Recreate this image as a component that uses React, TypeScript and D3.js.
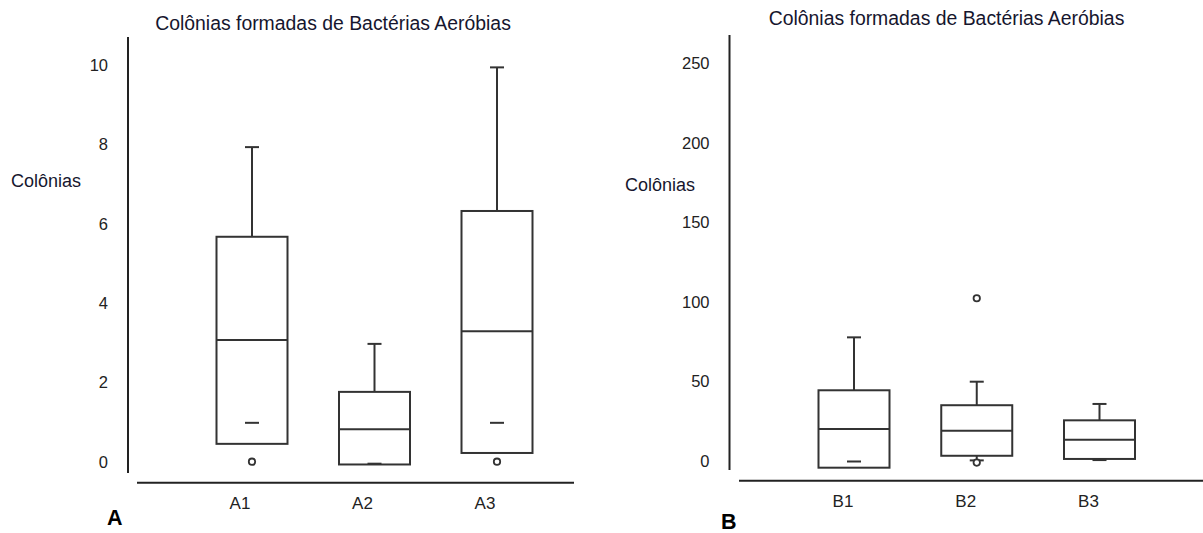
import React from "react";
import * as d3 from "d3";

// panel A
const groupsA = ["A1", "A2", "A3"];
const upperA = [7.93, 2.97, 9.94];
const q3A = [5.67, 1.76, 6.32];
const medianA = [3.07, 0.82, 3.29];
const q1A = [0.45, -0.07, 0.22];
const markA = [0.98, -0.05, 0.98];
const outliersA = [[0], [], [0]];
const ticksA = [0, 2, 4, 6, 8, 10];

// panel B
const groupsB = ["B1", "B2", "B3"];
const upperB = [77.6, 49.7, 35.7];
const q3B = [44.3, 34.9, 25.4];
const medianB = [19.9, 18.9, 13.2];
const q1B = [-4.4, 3.1, 1.1];
const markB = [-0.5, 0.2, 0.4];
const outliersB = [[], [102.2, -1.2], []];
const ticksB = [0, 50, 100, 150, 200, 250];

const FONT = "'Liberation Sans', Arial, sans-serif";
const INK = "#333";

function BoxPanel(p: any) {
  const y = d3.scaleLinear().domain(p.domain).range(p.yRange);
  const x = d3.scalePoint<string>().domain(p.groups).range(p.xRange);
  const bw = 71;
  const cap = 14;

  return (
    <g>
      <text x={p.titleX} y={p.titleY} textAnchor="middle" fontFamily={FONT}
        fontSize={19.4} fill="#16162e">{p.title}</text>
      <text x={p.yTitleX} y={p.yTitleY} fontFamily={FONT} fontSize={18} fill="#16162e">Colônias</text>

      {/* y axis: plain line + labels */}
      <line x1={p.axisX} x2={p.axisX} y1={p.axisTop} y2={p.axisBottom} stroke="#222" strokeWidth={2} />
      {p.ticks.map((t: number) => (
        <text key={t} x={p.axisX - 20} y={y(t)} dy="0.36em" textAnchor="end"
          fontFamily={FONT} fontSize={16.5} fill="#222">{t}</text>
      ))}

      {/* x axis */}
      <line x1={p.baseX0} x2={p.baseX1} y1={p.baseY} y2={p.baseY} stroke="#222" strokeWidth={2} />
      {p.groups.map((g: string) => (
        <text key={g} x={(x(g) as number) + p.labelShift} y={p.labelY} textAnchor="middle"
          fontFamily={FONT} fontSize={17} fill="#222">{g}</text>
      ))}

      {p.groups.map((g: string, i: number) => {
        const cx = x(g) as number;
        const top = y(p.q3[i]);
        const bot = y(p.q1[i]);
        return (
          <g key={g} stroke={INK} strokeWidth={2} fill="none">
            <line x1={cx} x2={cx} y1={y(p.upper[i])} y2={top} />
            <line x1={cx - cap / 2} x2={cx + cap / 2} y1={y(p.upper[i])} y2={y(p.upper[i])} />
            <rect x={cx - bw / 2} y={top} width={bw} height={bot - top} fill="#fff" />
            <line x1={cx - bw / 2} x2={cx + bw / 2} y1={y(p.median[i])} y2={y(p.median[i])} />
            {p.mark[i] < p.q1[i] && (
              <line x1={cx} x2={cx} y1={bot} y2={y(p.mark[i])} />
            )}
            <line x1={cx - cap / 2} x2={cx + cap / 2} y1={y(p.mark[i])} y2={y(p.mark[i])} />
            {p.outliers[i].map((o: number, k: number) => (
              <circle key={k} cx={cx} cy={y(o)} r={3.2} strokeWidth={1.8} fill="#fff" />
            ))}
          </g>
        );
      })}

      <text x={p.letterX} y={p.letterY} fontFamily={FONT} fontSize={21.5} fontWeight="bold" fill="#000">{p.letter}</text>
    </g>
  );
}

export default function App() {
  return (
    <svg width={1203} height={533} style={{ position: "absolute", left: 0, top: 0, background: "#fff" }}>
      <rect width={1203} height={533} fill="#fff" />
      <BoxPanel
        groups={groupsA} upper={upperA} q3={q3A} median={medianA} q1={q1A} mark={markA}
        outliers={outliersA} ticks={ticksA}
        domain={[0, 10]} yRange={[461.7, 65]} xRange={[252, 497]}
        axisX={128} axisTop={37} axisBottom={473}
        baseX0={137} baseX1={574} baseY={482.7} labelShift={-12} labelY={509}
        title="Colônias formadas de Bactérias Aeróbias" titleX={333} titleY={30}
        yTitleX={11} yTitleY={187} letter="A" letterX={107} letterY={525}
      />
      <BoxPanel
        groups={groupsB} upper={upperB} q3={q3B} median={medianB} q1={q1B} mark={markB}
        outliers={outliersB} ticks={ticksB}
        domain={[0, 250]} yRange={[460.7, 63.3]} xRange={[854, 1099.5]}
        axisX={729.5} axisTop={35} axisBottom={470}
        baseX0={739} baseX1={1203} baseY={480.7} labelShift={-11} labelY={507}
        title="Colônias formadas de Bactérias Aeróbias" titleX={946.5} titleY={25}
        yTitleX={625} yTitleY={191} letter="B" letterX={721} letterY={529}
      />
    </svg>
  );
}
